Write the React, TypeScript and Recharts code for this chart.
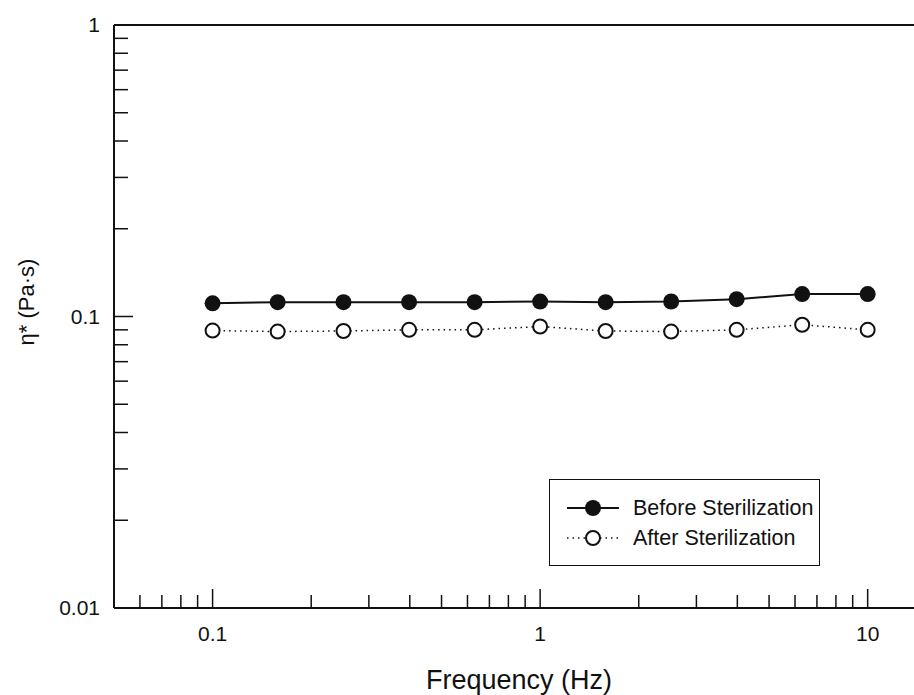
import React from 'react';
import { LineChart, Line, XAxis, YAxis, ReferenceLine, Legend } from 'recharts';

const frequencies = [0.1, 0.158, 0.251, 0.398, 0.631, 1, 1.585, 2.512, 3.981, 6.31, 10];
const beforeSterilization = [0.111, 0.112, 0.112, 0.112, 0.112, 0.1125, 0.112, 0.1126, 0.1147, 0.1194, 0.1194];
const afterSterilization = [0.0895, 0.0888, 0.0892, 0.09, 0.09, 0.0924, 0.0892, 0.0888, 0.09, 0.0937, 0.09];

const xTicks = [0.06, 0.07, 0.08, 0.09, 0.1, 0.2, 0.3, 0.4, 0.5, 0.6, 0.7, 0.8, 0.9, 1, 2, 3, 4, 5, 6, 7, 8, 9, 10];
const yTicks = [
    0.01, 0.02, 0.03, 0.04, 0.05, 0.06, 0.07, 0.08, 0.09,
    0.1, 0.2, 0.3, 0.4, 0.5, 0.6, 0.7, 0.8, 0.9, 1,
];
const majorTicks = [0.01, 0.1, 1, 10];

const data = frequencies.map((f, i) => ({
    f,
    before: beforeSterilization[i],
    after: afterSterilization[i],
}));

const INK = '#111';
const FONT = '"Liberation Sans", Arial, sans-serif';

const isMajor = (v: number) => majorTicks.some((m) => Math.abs(m - v) < 1e-9);

const XTick = (props: any) => {
    const { x, y, payload } = props;
    const major = isMajor(payload.value);
    return (
        <g>
            <line x1={x} y1={y} x2={x} y2={y - (major ? 19 : 13)} stroke={INK} strokeWidth={1.5} />
            {major && (
                <text x={x} y={y + 33} textAnchor="middle" fontSize={21} fill={INK} fontFamily={FONT}>
                    {payload.value}
                </text>
            )}
        </g>
    );
};

const YTick = (props: any) => {
    const { x, y, payload } = props;
    const major = isMajor(payload.value);
    return (
        <g>
            <line x1={x} y1={y} x2={x + (major ? 19 : 14)} y2={y} stroke={INK} strokeWidth={1.5} />
            {major && (
                <text x={x - 14} y={y + 7} textAnchor="end" fontSize={21} fill={INK} fontFamily={FONT}>
                    {payload.value}
                </text>
            )}
        </g>
    );
};

const YTitle = () => (
    <text
        x={26}
        y={302}
        transform="rotate(-90, 26, 302)"
        textAnchor="middle"
        dominantBaseline="central"
        fontSize={22}
        fill={INK}
        fontFamily={FONT}
    >
        η* (Pa·s)
    </text>
);

const LegendBox = () => (
    <div
        style={{
            border: `1.5px solid ${INK}`,
            width: 271,
            height: 87,
            boxSizing: 'border-box',
            fontFamily: FONT,
            fontSize: 21.5,
            color: INK,
            paddingTop: 13,
            background: '#fff',
            whiteSpace: 'nowrap',
        }}
    >
        <div style={{ display: 'flex', alignItems: 'center', height: 30 }}>
            <svg width={83} height={20} style={{ flexShrink: 0 }}>
                <line x1={17} y1={10} x2={69} y2={10} stroke={INK} strokeWidth={2} />
                <circle cx={43} cy={10} r={8} fill={INK} />
            </svg>
            <span>Before Sterilization</span>
        </div>
        <div style={{ display: 'flex', alignItems: 'center', height: 30 }}>
            <svg width={83} height={20} style={{ flexShrink: 0 }}>
                <line x1={17} y1={10} x2={69} y2={10} stroke={INK} strokeWidth={1.5} strokeDasharray="1.5 4" />
                <circle cx={43} cy={10} r={7} fill="#fff" stroke={INK} strokeWidth={2} />
            </svg>
            <span>After Sterilization</span>
        </div>
    </div>
);

export default function App() {
    return (
        <div style={{ position: 'absolute', left: 0, top: 0, background: '#fff' }}>
            <LineChart width={914} height={695} data={data} margin={{ top: 25, right: 0, bottom: 0, left: 0 }}>
                <XAxis
                    dataKey="f"
                    type="number"
                    scale="log"
                    domain={[0.05, 13.85]}
                    allowDataOverflow
                    ticks={xTicks}
                    interval={0}
                    tickSize={0}
                    tickMargin={0}
                    tick={<XTick />}
                    height={87}
                    axisLine={{ stroke: INK, strokeWidth: 2 }}
                    label={{
                        value: 'Frequency (Hz)',
                        position: 'insideBottom',
                        offset: 6,
                        dx: 5,
                        fontSize: 27,
                        fill: INK,
                        fontFamily: FONT,
                    }}
                />
                <YAxis
                    type="number"
                    scale="log"
                    domain={[0.01, 1]}
                    allowDataOverflow
                    ticks={yTicks}
                    interval={0}
                    tickSize={0}
                    tickMargin={0}
                    tick={<YTick />}
                    width={114}
                    axisLine={{ stroke: INK, strokeWidth: 2 }}
                    label={<YTitle />}
                />
                <ReferenceLine y={1} stroke={INK} strokeWidth={2} />
                <Legend
                    content={<LegendBox />}
                    layout="vertical"
                    align="center"
                    verticalAlign="middle"
                    wrapperStyle={{ position: 'absolute', left: 549, top: 479, width: 'auto' }}
                />
                <Line
                    dataKey="before"
                    name="Before Sterilization"
                    stroke={INK}
                    strokeWidth={2}
                    dot={{ r: 8, fill: INK, stroke: INK, strokeWidth: 0 }}
                    isAnimationActive={false}
                />
                <Line
                    dataKey="after"
                    name="After Sterilization"
                    stroke={INK}
                    strokeWidth={1.5}
                    strokeDasharray="1.5 4"
                    dot={{ r: 7, fill: '#fff', stroke: INK, strokeWidth: 2, strokeDasharray: '' }}
                    isAnimationActive={false}
                />
            </LineChart>
        </div>
    );
}
